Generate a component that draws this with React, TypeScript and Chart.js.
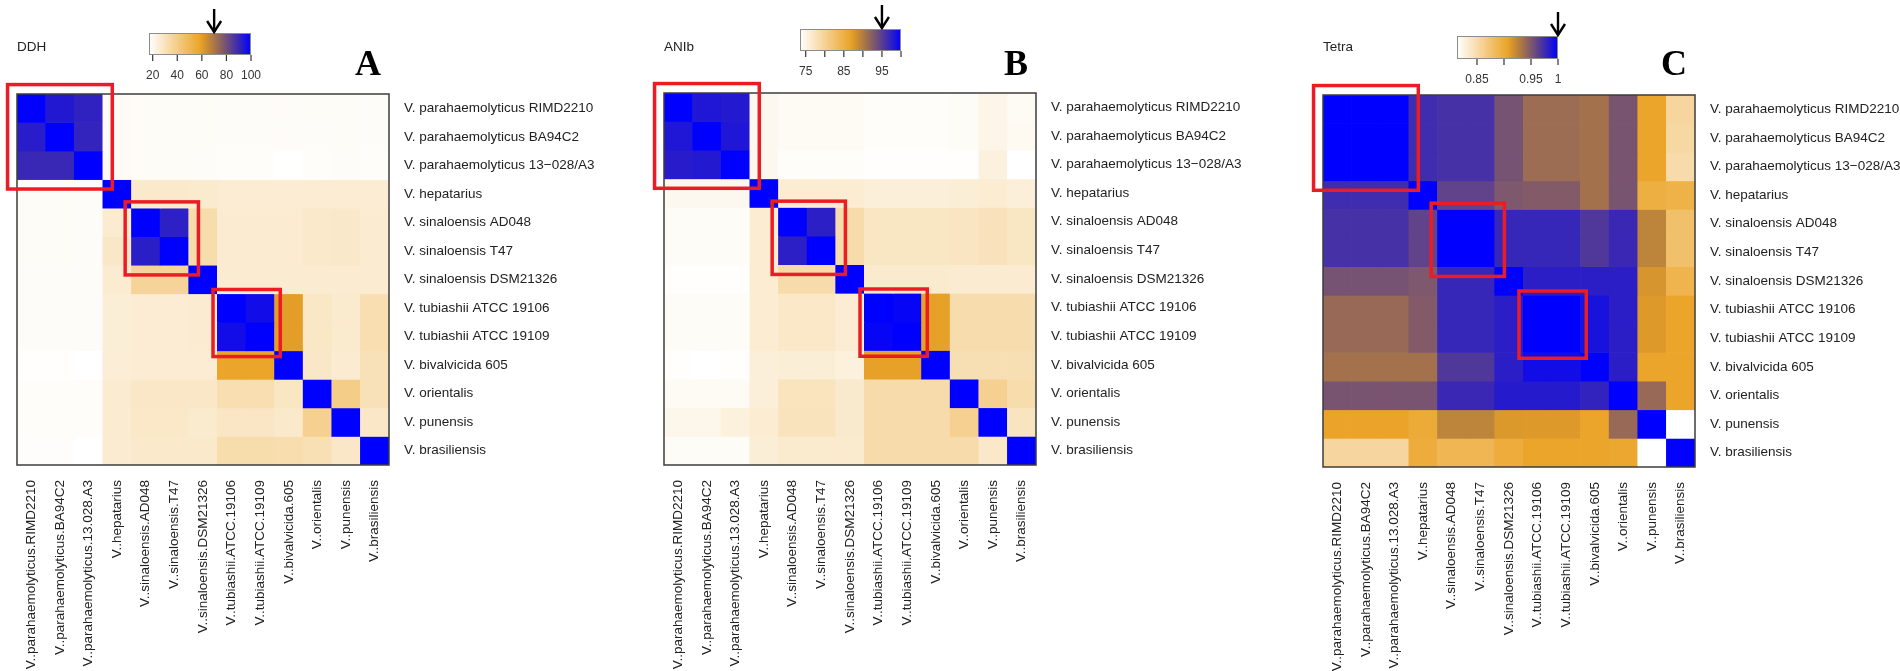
import React, { useEffect, useRef } from "react";
import { Chart, registerables } from "chart.js";

Chart.register(...registerables);

// ---------------- data ----------------
const rowLabels = [
  "V. parahaemolyticus RIMD2210",
  "V. parahaemolyticus BA94C2",
  "V. parahaemolyticus 13\u2212028/A3",
  "V. hepatarius",
  "V. sinaloensis AD048",
  "V. sinaloensis T47",
  "V. sinaloensis DSM21326",
  "V. tubiashii ATCC 19106",
  "V. tubiashii ATCC 19109",
  "V. bivalvicida 605",
  "V. orientalis",
  "V. punensis",
  "V. brasiliensis",
];

const colLabels = [
  "V..parahaemolyticus.RIMD2210",
  "V..parahaemolyticus.BA94C2",
  "V..parahaemolyticus.13.028.A3",
  "V..hepatarius",
  "V..sinaloensis.AD048",
  "V..sinaloensis.T47",
  "V..sinaloensis.DSM21326",
  "V..tubiashii.ATCC.19106",
  "V..tubiashii.ATCC.19109",
  "V..bivalvicida.605",
  "V..orientalis",
  "V..punensis",
  "V..brasiliensis",
];

const ddhValues = [
  [100, 94, 91.5, 18.7, 18.5, 18.5, 18.5, 18.3, 18.3, 18.3, 18.5, 18.5, 18.3],
  [93, 100, 91, 18.7, 18.5, 18.5, 18.5, 18.3, 18.3, 18.3, 18.3, 18.5, 18.3],
  [90, 90, 100, 18.7, 18.5, 18.5, 18.3, 18, 18, 17.2, 18, 18.3, 18],
  [18.5, 18.5, 18.3, 100, 27, 27, 26.5, 25.5, 25.5, 25.5, 25.5, 25.5, 25.5],
  [18.5, 18.5, 18.3, 26, 100, 92, 33, 26, 26, 26, 27, 27.3, 26],
  [18.5, 18.5, 18.3, 27.8, 92.5, 100, 33, 26, 26, 26, 27, 27.3, 26],
  [18.3, 18.3, 18.3, 25.8, 36.6, 36.6, 100, 26, 26, 26, 26, 26, 26],
  [18.3, 18.3, 18.3, 24.7, 25.5, 25.5, 26, 100, 97, 60, 28, 26.5, 32],
  [18.3, 18.3, 18.3, 24.7, 25.5, 25.5, 26, 97, 100, 60, 28, 26.5, 32],
  [17.5, 17.5, 17, 25, 25.5, 25.5, 25.5, 58, 58, 100, 27.8, 26, 30.5],
  [18, 18, 18, 26, 27.8, 27.8, 27.8, 32, 32, 28.5, 100, 39.8, 30.5],
  [18, 18, 18, 26, 27.5, 27.5, 26.5, 28.3, 28.3, 27, 38.5, 100, 27.8],
  [17.8, 17.8, 17, 26, 27, 27, 27, 33, 33, 32.5, 31.5, 27.8, 100],
];

const anibValues = [
  [100, 98.2, 98, 74.5, 74.2, 74.2, 74.2, 73.8, 73.8, 73.8, 74, 75, 74.2],
  [98.2, 100, 98.2, 74.5, 74.2, 74.2, 74.2, 73.8, 73.8, 73.8, 74, 75, 74.3],
  [97.8, 98, 100, 74.5, 73.8, 73.8, 73.8, 73.6, 73.6, 73.6, 73.6, 75.5, 73.5],
  [74.5, 74.5, 74.5, 100, 76.3, 76.3, 76.3, 75.8, 75.8, 75.8, 76, 76.3, 75.8],
  [74, 74, 74, 76.3, 100, 97.5, 78.7, 77.2, 77.2, 77.2, 77.3, 77.7, 77.2],
  [74, 74, 74, 76.3, 97.5, 100, 78.7, 77.2, 77.2, 77.2, 77.3, 77.7, 77.2],
  [73.7, 73.7, 73.7, 76.3, 78.7, 78.7, 100, 76.5, 76.5, 76.5, 76.4, 76.4, 76.4],
  [74, 74, 74, 76.3, 76.8, 76.8, 76.2, 100, 99.6, 87, 78.5, 78.5, 78.5],
  [74, 74, 74, 76.3, 76.8, 76.8, 76.2, 99.6, 100, 87, 78.5, 78.5, 78.5],
  [73.6, 73.5, 73.6, 75.8, 76, 76, 75.6, 87, 87, 100, 78.2, 78.2, 78.2],
  [74.2, 74.2, 74.2, 75.8, 77.5, 77.5, 76.6, 78.7, 78.7, 78.7, 100, 80.3, 78.6],
  [74.8, 74.8, 75.6, 76.3, 77.6, 77.6, 76.6, 78.7, 78.7, 78.7, 80.3, 100, 77.4],
  [74, 74, 74, 76, 76.5, 76.5, 76.5, 78.7, 78.7, 78.7, 78.7, 76.8, 100],
];

const tetraValues = [
  [1, 1, 1, 0.975, 0.972, 0.972, 0.953, 0.938, 0.938, 0.935, 0.952, 0.905, 0.855],
  [1, 1, 1, 0.975, 0.972, 0.972, 0.953, 0.938, 0.938, 0.935, 0.952, 0.905, 0.853],
  [1, 1, 1, 0.975, 0.972, 0.972, 0.953, 0.938, 0.938, 0.935, 0.952, 0.905, 0.85],
  [0.975, 0.975, 0.975, 1, 0.962, 0.962, 0.95, 0.948, 0.948, 0.935, 0.952, 0.895, 0.892],
  [0.972, 0.972, 0.972, 0.962, 1, 1, 0.978, 0.978, 0.978, 0.968, 0.977, 0.925, 0.878],
  [0.972, 0.972, 0.972, 0.962, 1, 1, 0.978, 0.978, 0.978, 0.968, 0.977, 0.925, 0.878],
  [0.953, 0.953, 0.953, 0.95, 0.978, 0.978, 1, 0.983, 0.983, 0.983, 0.983, 0.915, 0.89],
  [0.94, 0.94, 0.94, 0.948, 0.978, 0.978, 0.983, 1, 1, 0.99, 0.983, 0.912, 0.905],
  [0.94, 0.94, 0.94, 0.948, 0.978, 0.978, 0.983, 1, 1, 0.99, 0.983, 0.912, 0.905],
  [0.935, 0.935, 0.935, 0.935, 0.968, 0.968, 0.983, 0.993, 0.993, 1, 0.983, 0.905, 0.905],
  [0.952, 0.952, 0.952, 0.952, 0.977, 0.977, 0.985, 0.985, 0.985, 0.98, 1, 0.94, 0.905],
  [0.906, 0.906, 0.906, 0.9, 0.925, 0.925, 0.913, 0.912, 0.912, 0.905, 0.94, 1, 0.813],
  [0.855, 0.855, 0.855, 0.898, 0.888, 0.888, 0.898, 0.905, 0.905, 0.905, 0.903, 0.813, 1],
];

const ddhRange = [17, 100];
const anibRange = [73.5, 100];
const tetraRange = [0.813, 1.0];

const ddhTicks = [20, 40, 60, 80, 100];
const ddhTickLabels = ["20", "40", "60", "80", "100"];
const anibTicks = [75, 80, 85, 90, 95, 100];
const anibTickLabels = ["75", "", "85", "", "95", ""];
const tetraTicks = [0.85, 0.9, 0.95, 1.0];
const tetraTickLabels = ["0.85", "", "0.95", "1"];

const ddhCutoff = 70;
const anibCutoff = 95;
const tetraCutoff = 1.0;

// highlighted species groups (first / last row index)
const groupFirst = [0, 4, 7];
const groupLast = [2, 5, 8];

// ---------------- styling ----------------
const boxPadLo = [0.33, 0.22, 0.15];
const boxPadHi = [0.33, 0.34, 0.2];
const SANS = "'Liberation Sans', Arial, Helvetica, sans-serif";
const SERIF = "'Liberation Serif', 'Times New Roman', serif";

function palette(t: number): [number, number, number] {
  t = Math.max(0, Math.min(1, t));
  if (t <= 0.5) {
    const u = t / 0.5;
    return [255 - 20 * u, 255 - 91 * u, 255 - 215 * u];
  }
  const s = (t - 0.5) / 0.5;
  return [235 * (1 - s), 164 * (1 - s), 40 + 215 * Math.pow(s, 1.5)];
}
function rgb(c: number[]) {
  return `rgb(${Math.round(c[0])},${Math.round(c[1])},${Math.round(c[2])})`;
}
function colorFor(v: number, range: number[]) {
  return rgb(palette((v - range[0]) / (range[1] - range[0])));
}

type PanelCfg = {
  left: number;
  width: number;
  heatTop: number;
  heatBottom: number;
  values: number[][];
  range: number[];
  title: string;
  letter: string;
  ticks: number[];
  tickLabels: string[];
  cutoff: number;
  barDx: number;
  barTop: number;
  barW: number;
  barH: number;
};

const H = 671;
const HEAT_LEFT = 17;
const HEAT_SIZE = 372;

function HeatPanel({ cfg }: { cfg: PanelCfg }) {
  const ref = useRef<HTMLCanvasElement>(null);
  useEffect(() => {
    const n = rowLabels.length;
    const datasets = cfg.values.map((row, r) => ({
      label: rowLabels[r],
      data: colLabels.map(() => [r, r + 1]),
      backgroundColor: row.map((v) => colorFor(v, cfg.range)),
      borderWidth: 0,
      grouped: false,
      barPercentage: 1,
      categoryPercentage: 1,
    }));

    const overlay = {
      id: "overlay",
      afterDraw(chart: any) {
        const { ctx, chartArea: a, scales } = chart;
        const xs = scales.x;
        const ys = scales.y;
        const px = (p: number) => xs.getPixelForValue(p - 0.5);
        const py = (p: number) => ys.getPixelForValue(p);
        ctx.save();
        // heatmap frame
        ctx.strokeStyle = "#3c3c3c";
        ctx.lineWidth = 1.5;
        ctx.strokeRect(a.left, a.top, a.right - a.left, a.bottom - a.top);
        // red boxes
        ctx.strokeStyle = "#ec1c24";
        ctx.lineWidth = 3.5;
        groupFirst.forEach((f, i) => {
          const lo = f - boxPadLo[i];
          const hi = groupLast[i] + 1 + boxPadHi[i];
          const x0 = px(lo), x1 = px(hi), y0 = py(lo), y1 = py(hi);
          ctx.strokeRect(x0, y0, x1 - x0, y1 - y0);
        });
        // color bar
        const bx = a.left + cfg.barDx;
        const by = cfg.barTop;
        const bw = cfg.barW;
        const bh = cfg.barH;
        const g = ctx.createLinearGradient(bx, 0, bx + bw, 0);
        for (let i = 0; i <= 40; i++) g.addColorStop(i / 40, rgb(palette(i / 40)));
        ctx.fillStyle = g;
        ctx.fillRect(bx, by, bw, bh);
        ctx.strokeStyle = "#8c8c8c";
        ctx.lineWidth = 1;
        ctx.strokeRect(bx + 0.5, by + 0.5, bw - 1, bh - 1);
        const vx = (v: number) => bx + ((v - cfg.range[0]) / (cfg.range[1] - cfg.range[0])) * bw;
        ctx.strokeStyle = "#333";
        ctx.lineWidth = 1.2;
        ctx.fillStyle = "#333";
        ctx.font = `12px ${SANS}`;
        ctx.textAlign = "center";
        ctx.textBaseline = "middle";
        cfg.ticks.forEach((t, i) => {
          const x = vx(t);
          ctx.beginPath();
          ctx.moveTo(x, by + bh);
          ctx.lineTo(x, by + bh + 6);
          ctx.stroke();
          if (cfg.tickLabels[i]) ctx.fillText(cfg.tickLabels[i], x, by + bh + 21);
        });
        // arrow
        const ax = vx(cfg.cutoff);
        ctx.strokeStyle = "#000";
        ctx.lineWidth = 2.4;
        ctx.beginPath();
        ctx.moveTo(ax, by - 24);
        ctx.lineTo(ax, by - 1);
        ctx.stroke();
        ctx.beginPath();
        ctx.moveTo(ax - 7, by - 12);
        ctx.lineTo(ax, by - 1);
        ctx.lineTo(ax + 7, by - 12);
        ctx.stroke();
        // title
        ctx.fillStyle = "#222";
        ctx.font = `13.5px ${SANS}`;
        ctx.textAlign = "left";
        ctx.textBaseline = "middle";
        ctx.fillText(cfg.title, a.left, 47);
        // panel letter
        ctx.fillStyle = "#000";
        ctx.font = `bold 36px ${SERIF}`;
        ctx.textAlign = "right";
        ctx.textBaseline = "alphabetic";
        ctx.fillText(cfg.letter, a.right - 8, 75);
        ctx.restore();
      },
    };

    const chart = new Chart(ref.current as HTMLCanvasElement, {
      type: "bar",
      data: { labels: colLabels, datasets: datasets as any },
      options: {
        animation: false,
        responsive: false,
        devicePixelRatio: 1,
        layout: { padding: { left: HEAT_LEFT, top: cfg.heatTop, right: 0, bottom: 0 } },
        plugins: { legend: { display: false }, tooltip: { enabled: false } },
        scales: {
          x: {
            type: "category",
            position: "bottom",
            grid: { display: false, drawTicks: false },
            border: { display: false },
            ticks: {
              autoSkip: false,
              minRotation: 90,
              maxRotation: 90,
              padding: 15,
              color: "#222",
              font: { family: SANS, size: 13.5 },
            },
            afterFit: (s: any) => {
              s.height = H - cfg.heatBottom;
            },
          },
          y: {
            type: "linear",
            position: "right",
            reverse: true,
            min: 0,
            max: n,
            grid: { display: false, drawTicks: false },
            border: { display: false },
            afterBuildTicks: (s: any) => {
              s.ticks = rowLabels.map((_, i) => ({ value: i + 0.5 }));
            },
            ticks: {
              padding: 15,
              color: "#222",
              font: { family: SANS, size: 13.5 },
              callback: (v: any) => rowLabels[Math.floor(Number(v))],
            },
            afterFit: (s: any) => {
              s.width = cfg.width - HEAT_LEFT - HEAT_SIZE;
            },
          },
        },
      } as any,
      plugins: [overlay],
    });
    return () => chart.destroy();
  }, []);
  return (
    <canvas
      ref={ref}
      width={cfg.width}
      height={H}
      style={{ position: "absolute", left: cfg.left, top: 0, width: cfg.width, height: H }}
    />
  );
}

const panels: PanelCfg[] = [
  {
    left: 0, width: 647, heatTop: 94, heatBottom: 465,
    values: ddhValues, range: ddhRange, title: "DDH", letter: "A",
    ticks: ddhTicks, tickLabels: ddhTickLabels, cutoff: ddhCutoff,
    barDx: 132, barTop: 33, barW: 102, barH: 22,
  },
  {
    left: 647, width: 659, heatTop: 93, heatBottom: 465,
    values: anibValues, range: anibRange, title: "ANIb", letter: "B",
    ticks: anibTicks, tickLabels: anibTickLabels, cutoff: anibCutoff,
    barDx: 136, barTop: 29, barW: 101, barH: 22,
  },
  {
    left: 1306, width: 594, heatTop: 95, heatBottom: 467,
    values: tetraValues, range: tetraRange, title: "Tetra", letter: "C",
    ticks: tetraTicks, tickLabels: tetraTickLabels, cutoff: tetraCutoff,
    barDx: 134, barTop: 36, barW: 101, barH: 23,
  },
];

export default function App() {
  return (
    <div style={{ position: "absolute", left: 0, top: 0, width: 1900, height: H, background: "#fff", overflow: "hidden" }}>
      {panels.map((p) => (
        <HeatPanel key={p.letter} cfg={p} />
      ))}
    </div>
  );
}
